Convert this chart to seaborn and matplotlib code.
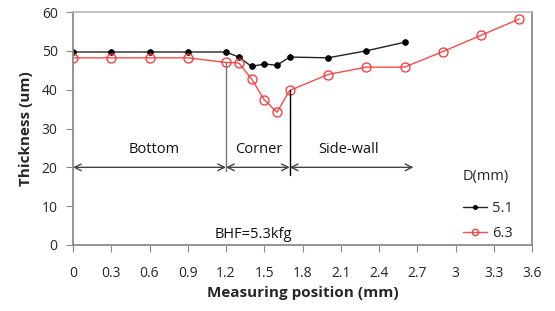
import matplotlib
matplotlib.use("Agg")
import matplotlib.pyplot as plt
import seaborn as sns
import pandas as pd

sns.set_theme(style="white")
plt.rcParams['font.family'] = ['Open Sans', 'DejaVu Sans']

x_51 = [0, 0.3, 0.6, 0.9, 1.2, 1.3, 1.4, 1.5, 1.6, 1.7, 2.0, 2.3, 2.6]
y_51 = [49.7, 49.7, 49.7, 49.7, 49.7, 48.4, 46.0, 46.6, 46.3, 48.4, 48.2, 50.0, 52.2]
x_63 = [0, 0.3, 0.6, 0.9, 1.2, 1.3, 1.4, 1.5, 1.6, 1.7, 2.0, 2.3, 2.6, 2.9, 3.2, 3.5]
y_63 = [48.2, 48.2, 48.2, 48.2, 47.0, 46.9, 42.8, 37.4, 34.2, 39.8, 43.9, 45.8, 45.8, 49.8, 54.0, 58.2]
x_ticks = [0, 0.3, 0.6, 0.9, 1.2, 1.5, 1.8, 2.1, 2.4, 2.7, 3, 3.3, 3.6]
x_tick_labels = ["0", "0.3", "0.6", "0.9", "1.2", "1.5", "1.8", "2.1", "2.4", "2.7", "3", "3.3", "3.6"]
y_ticks = [0, 10, 20, 30, 40, 50, 60]
regions = ["Bottom", "Corner", "Side-wall"]
region_bounds = [(0, 1.2), (1.2, 1.7), (1.7, 2.67)]
region_label_x = [0.64, 1.46, 2.16]

df51 = pd.DataFrame({"x": x_51, "y": y_51})
df63 = pd.DataFrame({"x": x_63, "y": y_63})

fig = plt.figure(figsize=(5.55, 3.11), dpi=100)
ax = fig.add_axes([73/555, 1-245/311, (532-73)/555, (245-12)/311])

sns.lineplot(data=df51, x="x", y="y", ax=ax, color="#222222", marker="o", markersize=4,
             markerfacecolor="black", markeredgecolor="black", linewidth=1.0, label="5.1")
sns.lineplot(data=df63, x="x", y="y", ax=ax, color="#FF4A4A", marker="o", markersize=6.5,
             markerfacecolor="none", markeredgecolor="#FF3030", markeredgewidth=0.9,
             linewidth=1.0, label="6.3")

# boundary lines
ax.plot([1.2, 1.2], [19, 47.0], color="#777777", lw=1.0)
ax.plot([1.7, 1.7], [18, 39.8], color="black", lw=1.0)

for name, (a, b), lx in zip(regions, region_bounds, region_label_x):
    ax.annotate("", xy=(a, 20), xytext=(b, 20),
                arrowprops=dict(arrowstyle="<->", color="#444444", lw=1.0,
                                shrinkA=0, shrinkB=0, mutation_scale=12))
    ax.text(lx, 24.5, name, ha="center", va="center", fontsize=10.5, color="#111111")

ax.text(1.72, 2.8, "BHF=5.3kfg", ha="right", va="center", fontsize=10.5, color="#111111")

ax.set_xlim(0, 3.6)
ax.set_ylim(0, 60)
ax.set_xticks(x_ticks)
ax.set_xticklabels(x_tick_labels)
ax.set_yticks(y_ticks)
ax.tick_params(axis="both", direction="out", length=5, width=0.8, color="#888888",
               labelsize=10, pad=6, bottom=True, left=True)
ax.tick_params(axis="x", pad=10)
ax.set_xlabel("Measuring position (mm)", fontsize=11, fontweight="bold", labelpad=4)
ax.set_ylabel("Thickness (um)", fontsize=11, fontweight="bold", labelpad=6)

for side in ["left", "bottom", "right"]:
    ax.spines[side].set_color("#888888")
ax.spines["top"].set_color("#BBBBBB")

leg = ax.legend(title="D(mm)", frameon=False, loc="center left",
                bbox_to_anchor=(0.82, 0.17), fontsize=10.5, title_fontsize=10.5,
                handlelength=1.7, handletextpad=0.3, labelspacing=0.7, markerscale=0.7)
leg._legend_box.align = "left"
leg._legend_box.sep = 12

fig.savefig("out.png", dpi=100)
